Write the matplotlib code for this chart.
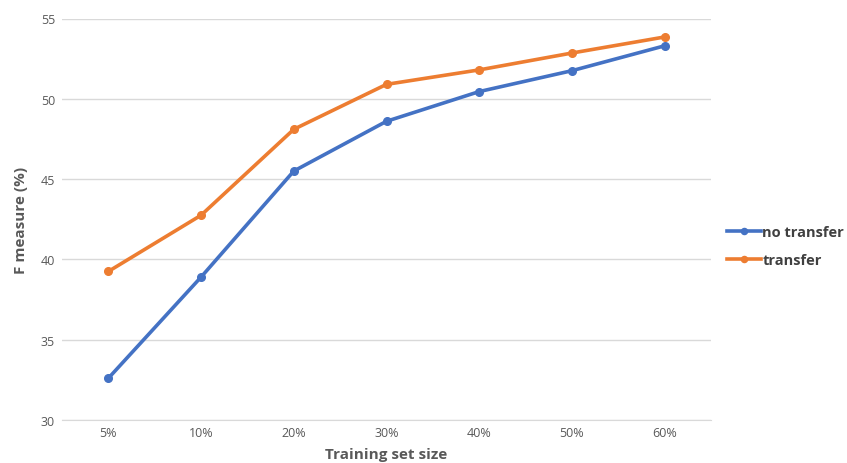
import matplotlib
matplotlib.use("Agg")
import matplotlib.pyplot as plt

categories = ["5%", "10%", "20%", "30%", "40%", "50%", "60%"]
no_transfer = [32.6, 38.9, 45.5, 48.6, 50.45, 51.75, 53.3]
transfer = [39.25, 42.75, 48.1, 50.9, 51.8, 52.85, 53.85]
yticks = [30, 35, 40, 45, 50, 55]

plt.rcParams['font.family'] = ['Open Sans', 'DejaVu Sans']

W, H = 847, 464
fig = plt.figure(figsize=(W / 100, H / 100), dpi=100)
ax_l, ax_r, ax_t, ax_b = 62, 711, 19.5, 421
ax = fig.add_axes([ax_l / W, 1 - ax_b / H, (ax_r - ax_l) / W, (ax_b - ax_t) / H])

x = list(range(len(categories)))
ax.plot(x, no_transfer, color="#4472C4", lw=2.6, marker="o", ms=5.5, label="no transfer", zorder=3)
ax.plot(x, transfer, color="#ED7D31", lw=2.6, marker="o", ms=5.5, label="transfer", zorder=3)

ax.set_xlim(-0.5, len(categories) - 0.5)
ax.set_ylim(30, 55)
ax.set_yticks(yticks)
ax.set_xticks(x)
ax.set_xticklabels(categories)
ax.grid(axis="y", color="#D9D9D9", lw=1.0)
ax.set_axisbelow(True)
for s in ["top", "right", "left"]:
    ax.spines[s].set_visible(False)
ax.spines["bottom"].set_color("#D9D9D9")
ax.tick_params(axis="both", length=0, colors="#595959", labelsize=9)
ax.tick_params(axis="y", pad=5)
ax.tick_params(axis="x", pad=4)

ax.set_xlabel("Training set size", fontsize=11, fontweight="bold", color="#595959")
ax.set_ylabel("F measure (%)", fontsize=11, fontweight="bold", color="#595959")
aw, ah = ax_r - ax_l, ax_b - ax_t
ax.xaxis.set_label_coords(0.5, (ax_b - 448) / ah)
ax.yaxis.set_label_coords((28 - ax_l) / aw, 0.5)

leg = ax.legend(loc="center left", bbox_to_anchor=(723 / W, 1 - 247 / H), bbox_transform=fig.transFigure,
                frameon=False, fontsize=10.5, handlelength=2.3, handletextpad=0.1, labelspacing=1.0,
                markerscale=0.8, borderaxespad=0, borderpad=0.3)
for t in leg.get_texts():
    t.set_color("#404040")
    t.set_fontweight("bold")

fig.savefig("out.png", dpi=100)
